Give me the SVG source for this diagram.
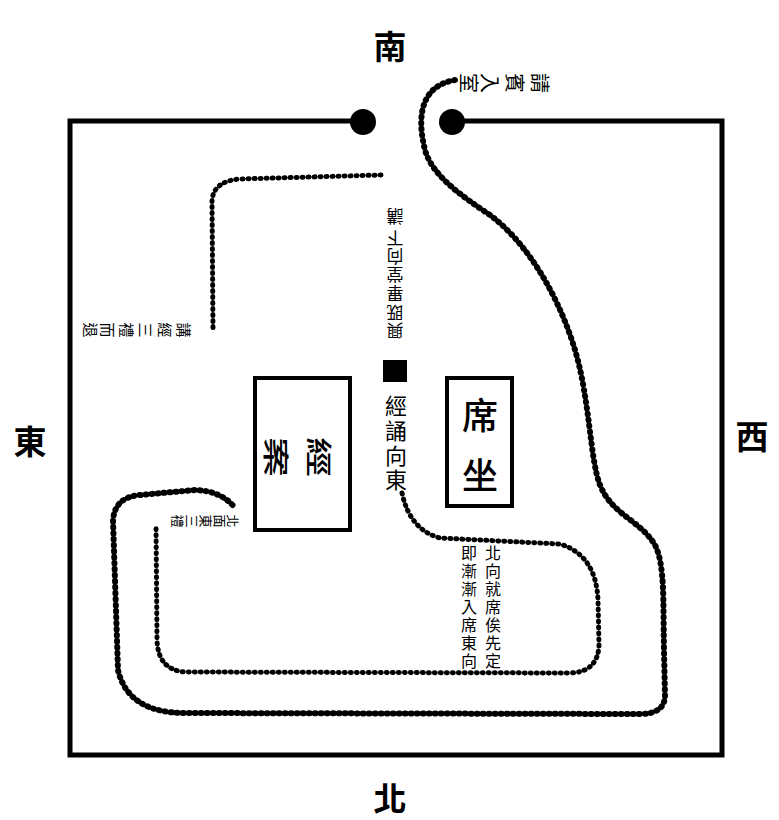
<svg xmlns="http://www.w3.org/2000/svg" width="779" height="820" viewBox="0 0 779 820">
<style>
.cj{font-family:"Noto Sans CJK TC","Noto Sans CJK SC",sans-serif;fill:#000;text-anchor:middle;dominant-baseline:central}
.big{font-size:33px;font-weight:bold}
.mid{font-weight:500}
.dot{fill:none;stroke:#000;stroke-width:5;stroke-linecap:round;stroke-linejoin:round;stroke-dasharray:1 5}
.wall{fill:none;stroke:#000;stroke-width:5}
.box{fill:#fff;stroke:#000;stroke-width:4}
</style>
<rect width="779" height="820" fill="#fff"/>
<g id="walls">
<path class="wall" d="M363,121 H70 V755 H722 V121 H452"/>
<circle cx="363" cy="122" r="13"/>
<circle cx="452" cy="122" r="13"/>
</g>
<g id="compass">
<text class="cj big" x="390" y="45">南</text>
<text class="cj big" x="30" y="440">東</text>
<text class="cj big" x="752" y="435">西</text>
<text class="cj big" x="390" y="797">北</text>
</g>
<g id="connectors">
<path class="dot" d="M381,175 L240,179 Q214,181 212,200 L213,330"/>
<path class="dot" style="stroke-width:6" d="M455,80 C425,85 415,110 425,150 C432,175 460,195 490,215 C530,245 560,300 575,350 C590,400 590,460 600,485 C612,515 640,520 655,545 C665,565 663,600 664,650 L665,695 Q665,714 640,714 L185,713 Q128,713 118,670 L113,520 Q115,497 140,495 L195,490 Q222,491 235,508"/>
<path class="dot" d="M402,493 Q410,530 440,538 L560,544 Q596,555 598,600 L599,645 Q598,672 570,673 L185,672 Q158,670 157,640 L156,525"/>
</g>
<g id="jingan">
<rect class="box" x="255" y="378" width="95" height="152"/>
<text class="cj mid" font-size="40" transform="translate(320 457) rotate(90) scale(1 0.65)">經</text>
<text class="cj mid" font-size="40" transform="translate(277 457) rotate(90) scale(1 0.65)">案</text>
</g>
<g id="xizuo">
<rect class="box" x="447" y="378" width="65" height="128"/>
<text class="cj mid" font-size="36" x="480" y="413">席</text>
<text class="cj mid" font-size="36" x="480" y="473">坐</text>
</g>
<g id="label-enter" class="cj" font-size="20">
<text x="540" y="83" transform="rotate(90 540 83)">請</text>
<text x="515" y="83" transform="rotate(90 515 83)">賓</text>
<text x="490" y="83" transform="rotate(90 490 83)">入</text>
<text x="469" y="83" transform="rotate(90 469 83)">室</text>
</g>
<g id="label-retreat" class="cj" font-size="15">
<text x="184" y="330" transform="rotate(90 184 330)">講</text>
<text x="165" y="330" transform="rotate(90 165 330)">經</text>
<text x="146" y="330" transform="rotate(90 146 330)">三</text>
<text x="127" y="330" transform="rotate(90 127 330)">禮</text>
<text x="108" y="330" transform="rotate(90 108 330)">而</text>
<text x="91" y="330" transform="rotate(90 91 330)">退</text>
</g>
<g id="label-bow" class="cj" font-size="13">
<text x="233" y="521" transform="rotate(90 233 521)">北</text>
<text x="220" y="521" transform="rotate(90 220 521)">面</text>
<text x="206" y="521" transform="rotate(90 206 521)">東</text>
<text x="192" y="521" transform="rotate(90 192 521)">三</text>
<text x="178" y="521" transform="rotate(90 178 521)">禮</text>
</g>
<g id="label-center" class="cj">
<g font-size="17">
<text x="395" y="217" transform="rotate(180 395 217)">講</text>
<text x="395" y="239" transform="rotate(180 395 239)">下</text>
<text x="395" y="257" transform="rotate(180 395 257)">向</text>
<text x="395" y="275" transform="rotate(180 395 275)">堂</text>
<text x="395" y="294" transform="rotate(180 395 294)">畢</text>
<text x="395" y="313" transform="rotate(180 395 313)">既</text>
<text x="395" y="331" transform="rotate(180 395 331)">興</text>
</g>
<rect x="383" y="360" width="24" height="22" fill="#000"/>
<g font-size="22">
<text x="396" y="404">經</text>
<text x="396" y="429">誦</text>
<text x="396" y="454">向</text>
<text x="396" y="478">東</text>
</g>
</g>
<g id="label-seat" class="cj" font-size="16">
<text x="493" y="552">北</text>
<text x="493" y="570">向</text>
<text x="493" y="588">就</text>
<text x="493" y="606">席</text>
<text x="493" y="624">俟</text>
<text x="493" y="642">先</text>
<text x="493" y="660">定</text>
<text x="469" y="552">即</text>
<text x="469" y="570">漸</text>
<text x="469" y="588">漸</text>
<text x="469" y="606">入</text>
<text x="469" y="624">席</text>
<text x="469" y="642">東</text>
<text x="469" y="660">向</text>
</g>
</svg>
